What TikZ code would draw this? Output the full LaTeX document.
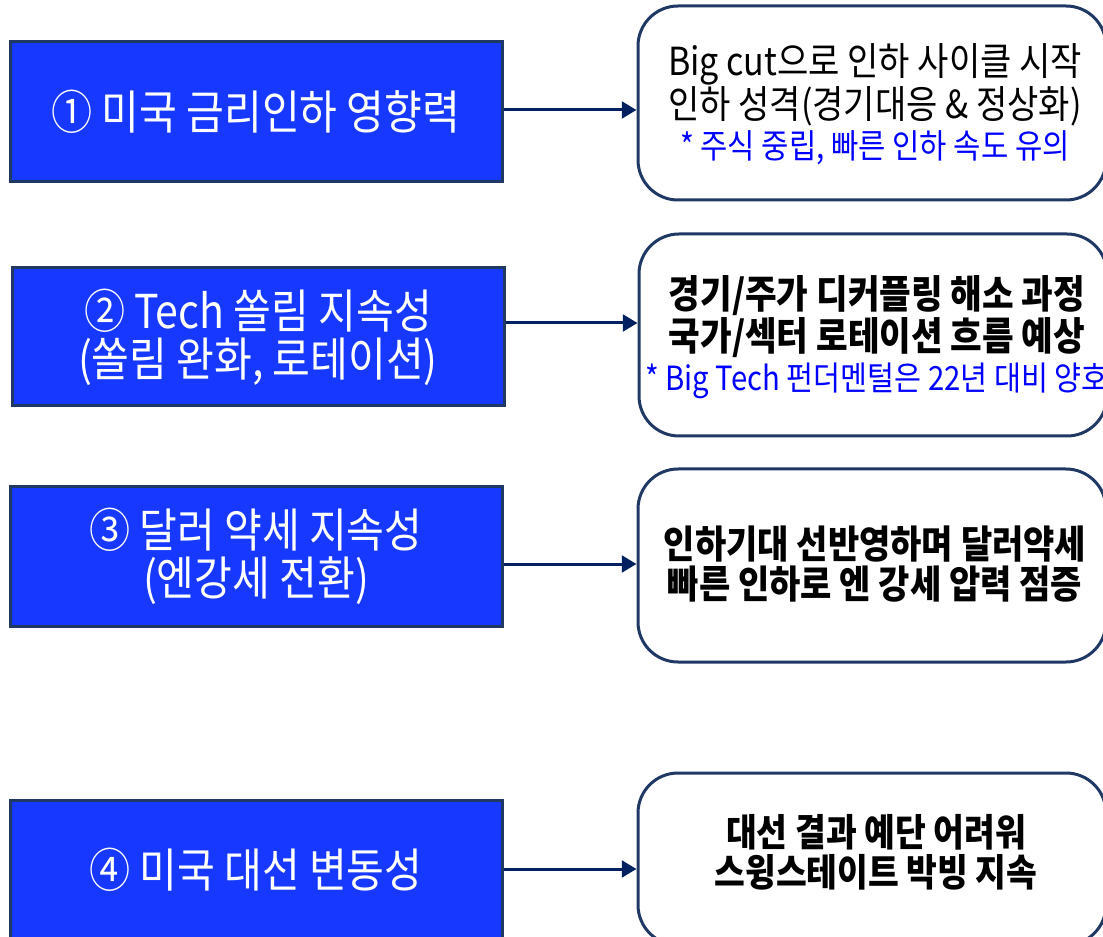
\documentclass[tikz,border=0pt]{standalone}
\usepackage{fontspec}
\setmainfont[FakeStretch=0.88]{Noto Sans CJK KR}
\usetikzlibrary{arrows.meta}
\definecolor{boxblue}{RGB}{23,57,255}
\definecolor{navy}{RGB}{31,56,100}
\definecolor{arrnavy}{RGB}{0,32,96}
\definecolor{noteblue}{RGB}{0,0,255}
\begin{document}
\begin{tikzpicture}[x=0.75pt,y=-0.75pt,
  leftbox/.style={draw=navy, fill=boxblue, line width=2.25pt, minimum width=369pt, text=white, align=center,
     font=\fontsize{35}{36}\selectfont},
  rightbox/.style={draw=navy, fill=white, line width=2.25pt, rounded corners=30pt, minimum width=351pt},
  rtext/.style={align=center, font=\fontsize{29}{31}\selectfont},
  arr/.style={draw=arrnavy, line width=2.25pt, -{Triangle[length=11pt,width=12.5pt]}}]
\useasboundingbox (0,0) rectangle (1103,937);
\clip (0,0) rectangle (1103,937);
% left boxes
\node[leftbox, minimum height=105pt] (L1) at (256,112) {① 미국 금리인하 영향력};
\node[leftbox, minimum height=103.5pt] (L2) at (258,337) {② Tech 쏠림 지속성\\(쏠림 완화, 로테이션)};
\node[leftbox, minimum height=104.25pt] (L3) at (256,556.5) {③ 달러 약세 지속성\\(엔강세 전환)};
\node[leftbox, minimum height=105pt] (L4) at (256,870) {④ 미국 대선 변동성};
% right boxes
\node[rightbox, minimum height=145.5pt] (R1) at (872,103) {};
\node[rightbox, minimum height=151.5pt] (R2) at (873,335) {};
\node[rightbox, minimum height=144.75pt] (R3) at (872,565.5) {};
\node[rightbox, minimum height=129pt] (R4) at (872,859) {};
% right texts
\node[rtext] (T1) at (875,104) {Big cut으로 인하 사이클 시작\\인하 성격(경기대응 \& 정상화)\\[-1pt]{\color{noteblue}\fontsize{25.3}{31}\selectfont * 주식 중립, 빠른 인하 속도 유의}};
\node[rtext, font=\fontsize{29.3}{31}\selectfont\bfseries] (T2) at (877,337) {경기/주가 디커플링 해소 과정\\국가/섹터 로테이션 흐름 예상\\[-1pt]{\mdseries\color{noteblue}\fontsize{25}{31}\selectfont * Big Tech 펀더멘털은 22년 대비 양호}};
\node[rtext, font=\fontsize{29}{30}\selectfont\bfseries] (T3) at (875,564) {인하기대 선반영하며 달러약세\\빠른 인하로 엔 강세 압력 점증};
\node[rtext, font=\fontsize{28.5}{30}\selectfont\bfseries] (T4) at (876,852) {대선 결과 예단 어려워\\스윙스테이트 박빙 지속};
% connectors
\draw[arr] (L1.east |- 0,110) -- (R1.west |- 0,110);
\draw[arr] (L2.east |- 0,323) -- (R2.west |- 0,323);
\draw[arr] (L3.east |- 0,564) -- (R3.west |- 0,564);
\draw[arr] (L4.east |- 0,869) -- (R4.west |- 0,869);
\end{tikzpicture}
\end{document}
